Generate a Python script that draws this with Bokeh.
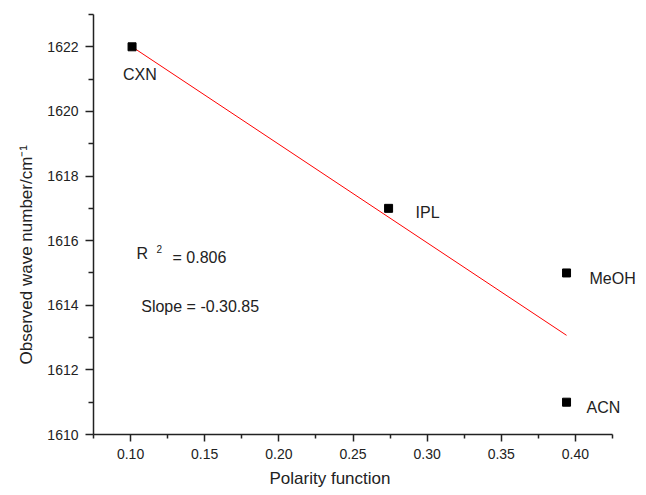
from bokeh.plotting import figure
from bokeh.models import (ColumnDataSource, FixedTicker, NumeralTickFormatter,
                          Range1d, Label, Title)
from bokeh.embed import file_html
from bokeh.resources import INLINE

# ---- data ----
solvents = ["CXN", "IPL", "MeOH", "ACN"]
polarity = [0.101, 0.274, 0.394, 0.394]
wavenumber = [1622.0, 1617.0, 1615.0, 1611.0]

fit_x = [0.101, 0.394]
fit_y = [1622.0, 1613.07]

x_major = [0.10, 0.15, 0.20, 0.25, 0.30, 0.35, 0.40]
x_minor = [0.075, 0.125, 0.175, 0.225, 0.275, 0.325, 0.375, 0.425]
y_major = [1610, 1612, 1614, 1616, 1618, 1620, 1622]
y_minor = [1611, 1613, 1615, 1617, 1619, 1621, 1623]
x_axis_span = (0.075, 0.425)
y_axis_span = (1610, 1623)

r2_text = "= 0.806"
slope_text = "Slope = -0.30.85"

# ---- styling ----
FONT = "Liberation Sans"
TXT = "#222222"
label_dx = [-9, 27, 23, 20]
label_dy = [-28, -4, -6, -5]   # annotation offsets: positive = up

AXIS_PX = 519                      # pixel length of the drawn x axis
FRAME_W = 545                      # frame is wider so labels on the right are not clipped
x_end = x_axis_span[0] + (x_axis_span[1] - x_axis_span[0]) * FRAME_W / AXIS_PX

p = figure(frame_width=FRAME_W, frame_height=420, output_backend="svg",
           toolbar_location=None,
           x_range=Range1d(x_axis_span[0], x_end),
           y_range=Range1d(*y_axis_span),
           min_border_left=93, min_border_right=0,
           min_border_top=14, min_border_bottom=40)
p.outline_line_color = None
p.grid.visible = False
p.background_fill_color = "white"
p.border_fill_color = "white"

src = ColumnDataSource(dict(x=polarity, y=wavenumber))

p.line(fit_x, fit_y, line_color="red", line_width=1)
p.scatter("x", "y", source=src, marker="square", size=8,
          fill_color="black", line_color="black")

for name, x, y, dx, dy in zip(solvents, polarity, wavenumber, label_dx, label_dy):
    p.add_layout(Label(x=x, y=y, text=name, x_offset=dx, y_offset=dy,
                       text_font=FONT, text_font_size="16px", text_color=TXT,
                       text_align="left", text_baseline="middle"))

p.add_layout(Label(x=0.104, y=1615.61, text="R", text_font=FONT,
                   text_font_size="16px", text_color=TXT,
                   text_baseline="middle", text_align="left"))
p.add_layout(Label(x=0.1175, y=1615.75, text="2", text_font=FONT,
                   text_font_size="10px", text_color=TXT,
                   text_baseline="middle", text_align="left"))
p.add_layout(Label(x=0.1283, y=1615.47, text=r2_text, text_font=FONT,
                   text_font_size="16px", text_color=TXT,
                   text_baseline="middle", text_align="left"))
p.add_layout(Label(x=0.1072, y=1613.96, text=slope_text, text_font=FONT,
                   text_font_size="16px", text_color=TXT,
                   text_baseline="middle", text_align="left"))

for ax in (p.xaxis[0], p.yaxis[0]):
    ax.axis_line_color = "#222222"
    ax.axis_line_width = 1.5
    ax.major_tick_line_color = "#222222"
    ax.minor_tick_line_color = "#222222"
    ax.major_tick_line_width = 1.5
    ax.minor_tick_line_width = 1.5
    ax.major_tick_in = 0
    ax.minor_tick_in = 0
    ax.major_label_text_font = FONT
    ax.major_label_text_font_size = "14px"
    ax.major_label_text_color = TXT

p.xaxis.bounds = x_axis_span
p.xaxis.ticker = FixedTicker(ticks=x_major, minor_ticks=x_minor)
p.yaxis.ticker = FixedTicker(ticks=y_major, minor_ticks=y_minor)
p.xaxis.formatter = NumeralTickFormatter(format="0.00")
p.xaxis.major_tick_out = 7
p.xaxis.minor_tick_out = 4
p.yaxis.major_tick_out = 8
p.yaxis.minor_tick_out = 5
p.xaxis.major_label_standoff = 7
p.yaxis.major_label_standoff = 7

xt = Title(text="Polarity function", align="left", offset=176,
           text_font=FONT, text_font_size="17px", text_color=TXT,
           text_font_style="normal", standoff=10)
p.add_layout(xt, "below")
yt = Title(text="Observed wave number/cm\u207b\u00b9", align="left", offset=70,
           text_font=FONT, text_font_size="17px", text_color=TXT,
           text_font_style="normal", standoff=18)
p.add_layout(yt, "left")

open("out.html", "w").write(file_html(p, INLINE))
